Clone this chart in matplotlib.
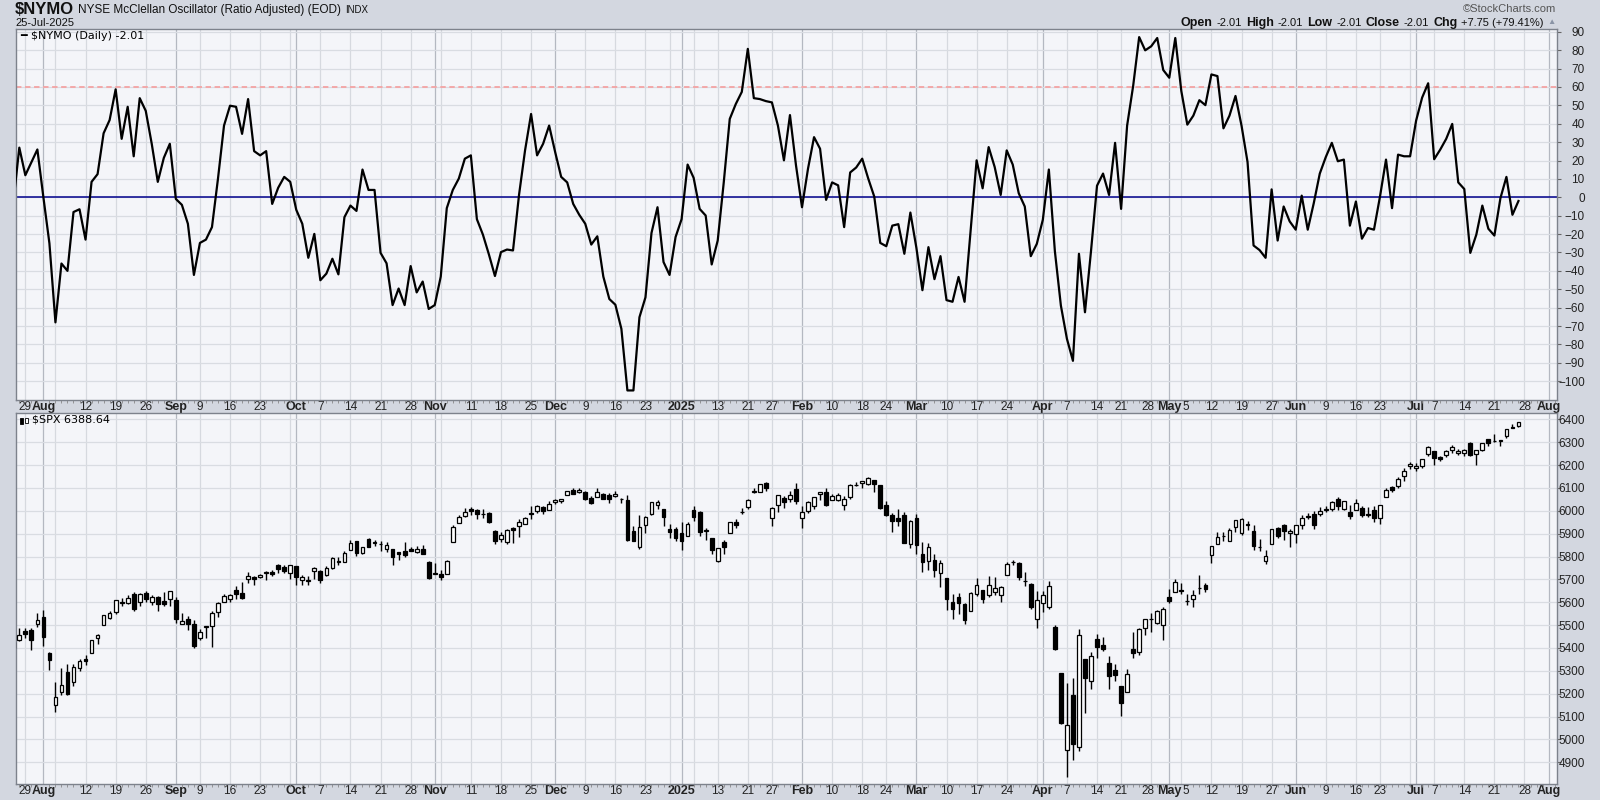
import matplotlib
matplotlib.use("Agg")
import matplotlib.pyplot as plt
from matplotlib.patches import Rectangle
import pandas as pd

plt.rcParams['font.family'] = ['Liberation Sans', 'DejaVu Sans']

# NYSE trading days (market holidays removed), a few future days for the axis
holidays = ["2024-09-02", "2024-11-28", "2024-12-25", "2025-01-01", "2025-01-09",
            "2025-01-20", "2025-02-17", "2025-04-18", "2025-05-26", "2025-06-19", "2025-07-04"]
days = pd.bdate_range("2024-07-25", "2025-08-06")
days = days[~days.isin(pd.to_datetime(holidays))]

# $NYMO daily values, 25-Jul-2024 .. 25-Jul-2025
nymo = [-3, 27, 12, 19, 26, 0, -25, -68, -36, -40,
        -8, -6.5, -23, 8.4, 12.6, 34.8, 42, 58.7, 31.8, 49.2,
        22.3, 53.9, 47, 29, 8.4, 21.4, 29.1, -0.9, -4.1, -14.4,
        -42.2, -24.8, -23, -16.2, 10.2, 39, 49.8, 49.2, 34.5, 53.4,
        25.1, 22.8, 25.1, -3.6, 5.2, 11.1, 8.4, -6.8, -14.4, -32.9,
        -19.9, -45.1, -41.5, -33.4, -41.9, -10.8, -4.5, -7.4, 15.1, 4,
        4, -30.2, -35.9, -58.6, -49.6, -58.6, -37.4, -51.7, -45.8, -60.7,
        -58.6, -43.1, -5.9, 4, 10.2, 21, 22.8, -11.9, -20.3, -31.1,
        -42.8, -29.8, -28.4, -28.9, 1.3, 25.5, 45.3, 22.8, 29.1, 39,
        24.6, 11.1, 8.1, -3.6, -9.5, -14.4, -25.7, -21.2, -43.1, -55.3,
        -58.4, -71.5, -105, -105, -65.2, -54.4, -19.4, -5.4, -35.2, -42.2,
        -21.6, -11.9, 17.8, 10.6, -6.3, -9.9, -36.5, -23.5, 8, 42.6,
        50.7, 57.3, 80.7, 53.9, 53.4, 52.3, 51.6, 39, 20.1, 44.7,
        17.4, -5.4, 15.6, 32.7, 26.4, -1.4, 8.1, 6.5, -16.2, 13.5,
        16.2, 21, 10.2, 0.4, -24.8, -26.6, -15.4, -14.6, -30.7, -8.3,
        -27.5, -50.5, -27.1, -44.5, -32, -55.9, -56.8, -43.3, -56.8, -18.5,
        20.1, 4.9, 27.3, 16.5, 1.3, 25.5, 17.8, 2.2, -5, -32,
        -25.3, -12.2, 15.1, -29.3, -58.9, -76.9, -88.9, -30.7, -62.5, -29.3,
        6.3, 12.9, 1.3, 29.6, -6.3, 39, 60.5, 87.1, 79.9, 82.1,
        86.6, 69.2, 65, 86.6, 57.8, 39.5, 44.4, 52.8, 50.1, 66.8,
        65.9, 37.5, 44.4, 55.1, 39, 19.2, -26.2, -28.7, -32.9, 4.3,
        -23.5, -5, -13.1, -17.6, 0.9, -17.6, -3.2, 12.9, 21.9, 29.6,
        19.6, 20.5, -15.4, -2.3, -22.5, -16.7, -17.6, 0.4, 20.5, -5.9,
        23.2, 22.3, 22.3, 41.7, 54.2, 62, 20.7, 25.9, 31.8, 39.9,
        8.1, 4.5, -30.2, -20.3, -4.5, -17.1, -20.8, -0.5, 11.1, -9.5,
        -2.01]

# $SPX daily candles, same dates
spx_open = [5428, 5433, 5476, 5479, 5505, 5537, 5376, 5151, 5206, 5293,
            5252, 5313, 5351, 5376, 5442, 5502, 5531, 5557, 5602, 5598,
            5637, 5603, 5640, 5602, 5624, 5607, 5613, 5612, 5506, 5527,
            5507, 5442, 5490, 5496, 5557, 5603, 5615, 5655, 5641, 5703,
            5709, 5711, 5730, 5733, 5762, 5755, 5727, 5758, 5698, 5695,
            5737, 5737, 5719, 5751, 5778, 5775, 5829, 5866, 5816, 5875,
            5859, 5857, 5833, 5834, 5818, 5826, 5833, 5819, 5835, 5775,
            5724, 5725, 5722, 5864, 5947, 5976, 6009, 6004, 5986, 5989,
            5912, 5876, 5864, 5924, 5934, 5944, 5992, 6000, 6015, 6003,
            6040, 6042, 6069, 6089, 6081, 6083, 6057, 6061, 6074, 6068,
            6063, 6052, 6047, 5912, 5843, 5940, 5984, 6024, 6006, 5920,
            5920, 5903, 5892, 6003, 5994, 5910, 5881, 5782, 5863, 5905,
            5951, 5996, 6015, 6081, 6084, 6121, 5969, 6026, 6057, 6050,
            6096, 5969, 5998, 6020, 6072, 6083, 6047, 6049, 6025, 6060,
            6115, 6121, 6117, 6134, 6114, 6027, 5982, 5970, 5981, 5857,
            5968, 5811, 5782, 5785, 5726, 5705, 5603, 5624, 5594, 5563,
            5635, 5655, 5632, 5646, 5630, 5719, 5775, 5772, 5695, 5679,
            5527, 5597, 5580, 5492, 5292, 4953, 5194, 4966, 5353, 5255,
            5441, 5411, 5335, 5305, 5232, 5207, 5395, 5381, 5489, 5529,
            5508, 5499, 5625, 5646, 5655, 5606, 5614, 5663, 5675, 5807,
            5854, 5891, 5869, 5929, 5902, 5944, 5910, 5841, 5781, 5855,
            5925, 5939, 5903, 5897, 5939, 5978, 5985, 5987, 6004, 6009,
            6050, 6009, 5997, 6004, 6012, 5987, 6004, 5970, 6061, 6105,
            6108, 6151, 6194, 6187, 6194, 6247, 6260, 6235, 6245, 6266,
            6255, 6255, 6295, 6249, 6264, 6313, 6304, 6307, 6327, 6368,
            6371]
spx_high = [5491, 5488, 5487, 5489, 5551, 5566, 5383, 5250, 5312, 5330,
            5328, 5351, 5371, 5436, 5463, 5546, 5562, 5608, 5620, 5632,
            5643, 5641, 5651, 5631, 5627, 5646, 5651, 5623, 5552, 5540,
            5522, 5484, 5497, 5560, 5600, 5636, 5637, 5670, 5690, 5733,
            5716, 5725, 5735, 5741, 5767, 5765, 5765, 5758, 5719, 5714,
            5753, 5739, 5757, 5796, 5796, 5823, 5871, 5870, 5843, 5879,
            5872, 5866, 5863, 5835, 5818, 5862, 5842, 5848, 5850, 5781,
            5772, 5741, 5784, 5936, 5983, 6012, 6018, 6008, 6009, 5993,
            5915, 5909, 5920, 5929, 5963, 5973, 6020, 6025, 6020, 6044,
            6053, 6052, 6087, 6100, 6099, 6088, 6065, 6100, 6079, 6078,
            6085, 6057, 6071, 5935, 5982, 5978, 6040, 6049, 6006, 5941,
            5929, 5949, 5949, 6022, 6000, 5927, 5882, 5837, 5871, 5953,
            5964, 6014, 6051, 6100, 6119, 6128, 6018, 6070, 6063, 6087,
            6120, 6022, 6042, 6062, 6084, 6101, 6074, 6076, 6064, 6116,
            6127, 6129, 6147, 6134, 6114, 6043, 5992, 6009, 5993, 5959,
            5986, 5865, 5860, 5812, 5783, 5705, 5636, 5642, 5597, 5645,
            5704, 5655, 5716, 5711, 5670, 5775, 5786, 5777, 5732, 5685,
            5651, 5650, 5695, 5500, 5292, 5247, 5268, 5481, 5353, 5381,
            5460, 5450, 5367, 5328, 5233, 5309, 5469, 5489, 5528, 5553,
            5565, 5581, 5659, 5700, 5683, 5638, 5655, 5720, 5683, 5844,
            5906, 5906, 5925, 5959, 5968, 5954, 5939, 5878, 5830, 5922,
            5930, 5943, 5922, 5938, 5982, 5990, 5999, 6016, 6021, 6043,
            6059, 6045, 6026, 6051, 6023, 6018, 6019, 6027, 6101, 6108,
            6146, 6187, 6215, 6211, 6228, 6285, 6263, 6242, 6265, 6290,
            6269, 6272, 6303, 6266, 6297, 6316, 6336, 6310, 6359, 6381,
            6390]
spx_low = [5390, 5430, 5444, 5393, 5494, 5410, 5302, 5119, 5193, 5195,
           5233, 5300, 5324, 5376, 5419, 5501, 5528, 5550, 5585, 5591,
           5560, 5585, 5602, 5590, 5560, 5583, 5582, 5509, 5503, 5480,
           5402, 5434, 5442, 5406, 5535, 5601, 5601, 5614, 5615, 5686,
           5674, 5707, 5697, 5714, 5728, 5730, 5703, 5674, 5676, 5674,
           5702, 5683, 5714, 5745, 5763, 5775, 5829, 5804, 5809, 5840,
           5846, 5824, 5822, 5762, 5784, 5799, 5823, 5814, 5811, 5703,
           5723, 5696, 5722, 5864, 5947, 5971, 5981, 5964, 5969, 5946,
           5854, 5865, 5853, 5860, 5884, 5944, 5963, 5992, 5984, 6003,
           6030, 6033, 6068, 6075, 6079, 6048, 6029, 6061, 6051, 6035,
           6059, 6035, 5867, 5866, 5832, 5902, 5983, 6007, 5932, 5879,
           5869, 5830, 5888, 5955, 5890, 5874, 5809, 5774, 5811, 5905,
           5927, 5985, 6007, 6076, 6082, 6088, 5932, 5995, 6012, 6039,
           6031, 5923, 5990, 6007, 6048, 6020, 6046, 6043, 6003, 6051,
           6107, 6100, 6111, 6084, 6009, 5977, 5908, 5932, 5858, 5837,
           5810, 5732, 5742, 5711, 5667, 5565, 5529, 5547, 5505, 5563,
           5626, 5597, 5622, 5632, 5603, 5719, 5763, 5699, 5670, 5572,
           5489, 5558, 5571, 5390, 5069, 4835, 4910, 4950, 5116, 5220,
           5358, 5387, 5220, 5255, 5101, 5207, 5357, 5371, 5455, 5468,
           5505, 5433, 5597, 5646, 5634, 5586, 5578, 5635, 5644, 5773,
           5853, 5868, 5867, 5907, 5895, 5915, 5830, 5825, 5767, 5854,
           5883, 5874, 5843, 5861, 5919, 5966, 5921, 5978, 5994, 6000,
           6003, 6004, 5964, 6004, 5974, 5971, 5952, 5944, 6059, 6081,
           6101, 6132, 6184, 6174, 6189, 6241, 6201, 6217, 6234, 6251,
           6243, 6241, 6242, 6202, 6262, 6283, 6303, 6282, 6317, 6361,
           6365]
spx_close = [5399, 5459, 5463, 5436, 5522, 5446, 5346, 5186, 5240, 5199,
             5319, 5344, 5344, 5434, 5455, 5543, 5554, 5608, 5597, 5620,
             5571, 5635, 5616, 5625, 5592, 5592, 5648, 5529, 5520, 5503,
             5408, 5471, 5496, 5554, 5595, 5626, 5633, 5634, 5618, 5713,
             5703, 5718, 5732, 5722, 5745, 5738, 5762, 5709, 5709, 5699,
             5751, 5696, 5751, 5792, 5780, 5815, 5859, 5815, 5842, 5841,
             5864, 5853, 5851, 5797, 5809, 5808, 5823, 5833, 5813, 5705,
             5729, 5712, 5782, 5929, 5973, 5996, 6001, 5984, 5985, 5949,
             5870, 5893, 5917, 5917, 5949, 5969, 5987, 6021, 5998, 6032,
             6047, 6050, 6086, 6075, 6090, 6053, 6034, 6084, 6051, 6051,
             6074, 6050, 5872, 5867, 5931, 5974, 6040, 6037, 5971, 5907,
             5882, 5869, 5942, 5975, 5909, 5918, 5827, 5836, 5843, 5950,
             5937, 5997, 6049, 6086, 6119, 6101, 6012, 6068, 6039, 6071,
             6041, 5994, 6037, 6061, 6084, 6026, 6066, 6068, 6051, 6115,
             6115, 6129, 6144, 6117, 6013, 5983, 5955, 5956, 5861, 5955,
             5850, 5778, 5842, 5739, 5770, 5615, 5572, 5599, 5522, 5639,
             5675, 5615, 5675, 5663, 5668, 5768, 5777, 5712, 5693, 5581,
             5612, 5633, 5671, 5397, 5074, 5062, 4982, 5457, 5268, 5363,
             5406, 5397, 5276, 5283, 5158, 5288, 5376, 5485, 5525, 5529,
             5561, 5569, 5604, 5687, 5650, 5607, 5631, 5664, 5660, 5844,
             5886, 5892, 5917, 5958, 5964, 5940, 5845, 5842, 5802, 5922,
             5889, 5912, 5912, 5936, 5970, 5971, 5939, 6000, 6006, 6038,
             6022, 6045, 5977, 6033, 5983, 5981, 5967, 6025, 6092, 6092,
             6141, 6173, 6205, 6198, 6227, 6279, 6230, 6226, 6263, 6280,
             6260, 6268, 6244, 6264, 6297, 6297, 6306, 6309, 6359, 6363,
             6389]

# date axis labels
tick_dates = ["2024-07-29", "2024-08-01", "2024-08-12", "2024-08-19", "2024-08-26",
              "2024-09-03", "2024-09-09", "2024-09-16", "2024-09-23", "2024-10-01",
              "2024-10-07", "2024-10-14", "2024-10-21", "2024-10-28", "2024-11-01",
              "2024-11-11", "2024-11-18", "2024-11-25", "2024-12-02", "2024-12-09",
              "2024-12-16", "2024-12-23", "2025-01-02", "2025-01-13", "2025-01-21",
              "2025-01-27", "2025-02-03", "2025-02-10", "2025-02-18", "2025-02-24",
              "2025-03-03", "2025-03-10", "2025-03-17", "2025-03-24", "2025-04-01",
              "2025-04-07", "2025-04-14", "2025-04-21", "2025-04-28", "2025-05-01",
              "2025-05-05", "2025-05-12", "2025-05-19", "2025-05-27", "2025-06-02",
              "2025-06-09", "2025-06-16", "2025-06-23", "2025-07-01", "2025-07-07",
              "2025-07-14", "2025-07-21", "2025-07-28", "2025-08-01"]
tick_labels = ["29", "Aug", "12", "19", "26", "Sep", "9", "16", "23", "Oct",
               "7", "14", "21", "28", "Nov", "11", "18", "25", "Dec", "9",
               "16", "23", "2025", "13", "21", "27", "Feb", "10", "18", "24",
               "Mar", "10", "17", "24", "Apr", "7", "14", "21", "28", "May",
               "5", "12", "19", "27", "Jun", "9", "16", "23", "Jul", "7",
               "14", "21", "28", "Aug"]
# week starts that get a grid line but no label
extra_grid = ["2024-08-05", "2024-09-30", "2024-11-04", "2024-12-30", "2025-01-06",
              "2025-03-31", "2025-06-30"]
# crowded labels around Apr 28 / May 1 / May 5: shift in points
nudge = {38: -2.5, 39: 0, 40: 3}

pos = {d: i for i, d in enumerate(days)}
x = list(range(len(nymo)))
month_names = ["Aug", "Sep", "Oct", "Nov", "Dec", "2025", "Feb", "Mar", "Apr", "May", "Jun", "Jul"]

W, H = 1600, 800
fig = plt.figure(figsize=(16, 8), dpi=100, facecolor='#d3d7e0')
ax1 = fig.add_axes([16 / W, 1 - 400 / H, 1541 / W, 371 / H])
ax2 = fig.add_axes([16 / W, 1 - 784 / H, 1541 / W, 371 / H])


def style(ax, yticks):
    ax.set_facecolor('#f4f5f9')
    ax.set_xlim(0.45, 256.4)
    tx = [pos[pd.Timestamp(d)] for d in tick_dates]
    for t, lab in zip(tx, tick_labels):
        c = '#b4b8c1' if lab in month_names else '#d6d9df'
        ax.axvline(t, color=c, lw=0.9, zorder=0)
    for d in extra_grid:
        ax.axvline(pos[pd.Timestamp(d)], color='#d6d9df', lw=0.9, zorder=0)
    ax.set_xticks(tx)
    shown = ['' if i in nudge else lab for i, lab in enumerate(tick_labels)]
    ax.set_xticklabels(shown, fontsize=8.5, color='#222222')
    for lbl in ax.get_xticklabels():
        if lbl.get_text() in month_names:
            lbl.set_fontweight('bold')
            lbl.set_fontsize(9)
    # the crowded ones are written by hand so they can be shifted sideways
    for i, dx in nudge.items():
        month = tick_labels[i] in month_names
        ax.annotate(tick_labels[i], xy=(tx[i], 0), xycoords=('data', 'axes fraction'),
                    xytext=(dx, -1), textcoords='offset points', ha='center', va='top',
                    fontsize=9 if month else 8.5, fontweight='bold' if month else 'normal',
                    color='#222222', annotation_clip=False)
    ax.set_xticks(range(1, 257), minor=True)
    ax.tick_params(axis='x', which='major', length=0, pad=1)
    ax.tick_params(axis='x', which='minor', length=2, color='#888888', width=0.6)
    ax.yaxis.tick_right()
    ax.set_yticks(yticks)
    ax.tick_params(axis='y', length=3, color='#666666', labelsize=8.5, labelcolor='#222222', pad=17)
    for lbl in ax.get_yticklabels():
        lbl.set_horizontalalignment('right')
    ax.grid(axis='y', color='#d9dce2', lw=0.9, zorder=0)
    ax.set_axisbelow(True)
    for s in ax.spines.values():
        s.set_color('#7d828c')
        s.set_linewidth(1)


# top panel: McClellan oscillator
style(ax1, list(range(-100, 91, 10)))
ax1.set_ylim(-110.2, 91.5)
ax1.axhline(60, color='#f4a3a3', lw=1.3, ls=(0, (3, 2)), zorder=1)
ax1.axhline(0, color='#00008b', lw=1.1, zorder=2)
ax1.plot(x, nymo, color='black', lw=1.6, zorder=3)
fig.text(20 / W, 1 - 36 / H, '━', fontsize=8, family='DejaVu Sans', va='center')
fig.text(31 / W, 1 - 36 / H, '$NYMO (Daily) -2.01', fontsize=8, family='DejaVu Sans', va='center')

# bottom panel: S&P 500 candles
style(ax2, list(range(4900, 6401, 100)))
ax2.set_ylim(4805, 6428)
ax2.vlines(x, spx_low, spx_high, color='black', lw=1, zorder=2)
body_col = ['white' if c >= o else 'black' for o, c in zip(spx_open, spx_close)]
ax2.bar(x, [c - o for o, c in zip(spx_open, spx_close)], bottom=spx_open, width=0.62,
        color=body_col, edgecolor='black', lw=0.9, zorder=3)
# little candle icon for the legend
fig.add_artist(Rectangle((20 / W, 1 - 424 / H), 3 / W, 6 / H, transform=fig.transFigure,
                         facecolor='black', edgecolor='black', lw=0.6))
fig.add_artist(Rectangle((25 / W, 1 - 423 / H), 3 / W, 5 / H, transform=fig.transFigure,
                         facecolor='white', edgecolor='black', lw=0.6))
fig.text(32 / W, 1 - 420 / H, '$SPX 6388.64', fontsize=8, family='DejaVu Sans', va='center')

# header texts, placed one after another
renderer = fig.canvas.get_renderer()


def run(x0, y, parts, right=False):
    texts = []
    for s, size, weight, color in parts:
        t = fig.text(0, 1 - y / H, s, fontsize=size, fontweight=weight, color=color, va='center')
        texts.append(t)
    widths = [t.get_window_extent(renderer=renderer).width for t in texts]
    total = sum(widths) + 4 * (len(widths) - 1)
    xx = x0 - total if right else x0
    for t, w in zip(texts, widths):
        t.set_x(xx / W)
        xx += w + 4


run(15, 10, [('$NYMO', 12, 'bold', '#111111'),
             ('NYSE McClellan Oscillator (Ratio Adjusted) (EOD)', 8.5, 'normal', '#111111'),
             ('INDX', 7, 'normal', '#111111')])
run(15, 23, [('25-Jul-2025', 8, 'normal', '#111111')])
run(1556, 9, [('©StockCharts.com', 8, 'normal', '#555555')], right=True)
run(1556, 23, [('Open', 9, 'bold', '#111111'), ('-2.01', 8, 'normal', '#111111'),
               ('High', 9, 'bold', '#111111'), ('-2.01', 8, 'normal', '#111111'),
               ('Low', 9, 'bold', '#111111'), ('-2.01', 8, 'normal', '#111111'),
               ('Close', 9, 'bold', '#111111'), ('-2.01', 8, 'normal', '#111111'),
               ('Chg', 9, 'bold', '#111111'), ('+7.75 (+79.41%)', 8, 'normal', '#111111'),
               ('▲', 6, 'normal', '#8a94a6')], right=True)

fig.savefig('out.png', dpi=100, facecolor=fig.get_facecolor())
